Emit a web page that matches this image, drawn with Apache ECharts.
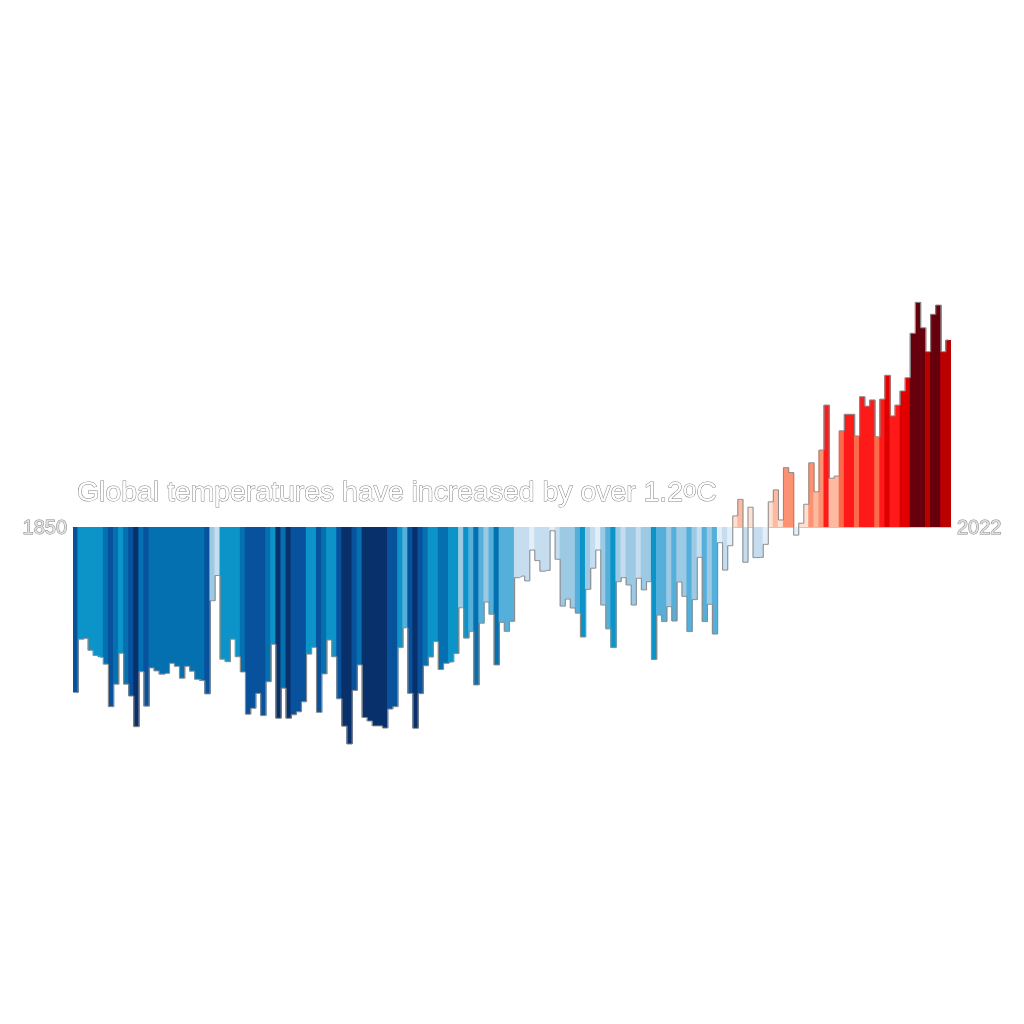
<!DOCTYPE html>
<html>
<head>
<meta charset="utf-8">
<style>
html,body{margin:0;padding:0;background:#ffffff;}
#chart{width:1024px;height:1024px;}
</style>
<script src="https://cdn.jsdelivr.net/npm/echarts@6/dist/echarts.min.js"></script>
</head>
<body>
<div id="chart"></div>
<script>
// Years 1850..2022 (category labels)
const firstYear = 1850;
const lastYear = 2022;
const years = [];
for (let y = firstYear; y <= lastYear; y++) years.push(String(y));

// Annual temperature anomaly (°C)
const anomalies = [
-0.611,-0.414,-0.411,-0.455,-0.474,-0.481,-0.506,-0.663,-0.580,-0.466,
-0.580,-0.624,-0.737,-0.534,-0.661,-0.520,-0.531,-0.543,-0.540,-0.503,
-0.514,-0.558,-0.514,-0.532,-0.562,-0.567,-0.616,-0.272,-0.179,-0.488,
-0.497,-0.414,-0.479,-0.535,-0.691,-0.669,-0.614,-0.696,-0.571,-0.433,
-0.706,-0.595,-0.706,-0.693,-0.682,-0.645,-0.469,-0.444,-0.684,-0.542,
-0.417,-0.479,-0.634,-0.735,-0.801,-0.603,-0.509,-0.703,-0.716,-0.734,
-0.734,-0.742,-0.672,-0.663,-0.445,-0.372,-0.614,-0.743,-0.615,-0.512,
-0.480,-0.423,-0.526,-0.503,-0.498,-0.467,-0.298,-0.410,-0.386,-0.583,
-0.355,-0.277,-0.322,-0.509,-0.352,-0.385,-0.348,-0.187,-0.181,-0.199,
-0.085,-0.124,-0.163,-0.160,-0.014,-0.119,-0.292,-0.266,-0.299,-0.318,
-0.406,-0.230,-0.152,-0.085,-0.288,-0.376,-0.445,-0.202,-0.187,-0.214,
-0.288,-0.189,-0.232,-0.202,-0.489,-0.325,-0.349,-0.294,-0.347,-0.203,
-0.256,-0.386,-0.268,-0.112,-0.349,-0.285,-0.395,-0.058,-0.159,-0.069,
 0.041, 0.102,-0.130, 0.073,-0.113,-0.112,-0.064, 0.093, 0.137, 0.026,
 0.219, 0.201,-0.030, 0.014, 0.084, 0.237, 0.130, 0.284, 0.450, 0.180,
 0.188, 0.355, 0.416, 0.416, 0.336, 0.481, 0.446, 0.469, 0.333, 0.472,
 0.560, 0.410, 0.450, 0.502, 0.551, 0.715, 0.829, 0.735, 0.647, 0.785,
 0.819, 0.647, 0.690
];

// Colour bands (0.1 °C steps)
const bandEdges = [-0.7,-0.6,-0.5,-0.4,-0.3,-0.2,-0.1,0,0.1,0.2,0.3,0.4,0.5,0.6,0.7];
const bandColors = ['#08306b','#08519c','#0570b0','#0c94c9','#54b0db','#9ccae4','#c6dcef','#e2eef8',
                    '#fee0d2','#fcbba1','#fc9272','#fb6a4a','#ff1a1a','#e00000','#bb0000','#67000d'];

const titleText = 'Global temperatures have increased by over 1.2{sup|o}C';

const pieces = bandColors.map((c, i) => {
  const p = { color: c };
  if (i > 0) p.gte = bandEdges[i - 1];
  if (i < bandEdges.length) p.lt = bandEdges[i];
  return p;
});

const chart = echarts.init(document.getElementById('chart'), null, { renderer: 'canvas' });
const hollow = { color: '#ffffff', textBorderColor: '#858585', textBorderWidth: 1 };

chart.setOption({
  backgroundColor: '#ffffff',
  animation: false,
  title: {
    text: titleText,
    left: 77,
    top: 478,
    padding: 0,
    textStyle: Object.assign({
      fontFamily: 'Liberation Sans',
      fontSize: 28.4,
      lineHeight: 30,
      fontWeight: 'normal',
      rich: {
        sup: Object.assign({ fontFamily: 'Liberation Sans', fontSize: 24, lineHeight: 18, verticalAlign: 'top' }, hollow)
      }
    }, hollow)
  },
  grid: { left: 73, right: 73, top: 256, bottom: 226 },
  xAxis: {
    type: 'category',
    data: years,
    boundaryGap: true,
    axisLine: { show: true, onZero: true, lineStyle: { color: '#c8c8c8', width: 1 } },
    axisTick: { show: false },
    axisLabel: { show: false },
    splitLine: { show: false }
  },
  yAxis: {
    type: 'value',
    min: -1,
    max: 1,
    show: false,
    splitLine: { show: false }
  },
  visualMap: {
    type: 'piecewise',
    show: false,
    seriesIndex: 0,
    dimension: 1,
    pieces: pieces
  },
  series: [
    {
      type: 'bar',
      data: anomalies,
      barWidth: '125%',
      itemStyle: { borderWidth: 0, opacity: 1 },
      z: 2
    },
    {
      type: 'line',
      data: anomalies,
      step: 'middle',
      showSymbol: false,
      symbol: 'none',
      silent: true,
      z: 3,
      lineStyle: { color: '#8c8c8c', width: 1 }
    }
  ],
  graphic: [
    {
      type: 'text', x: 67, y: 528,
      style: { text: String(firstYear), fontFamily: 'Liberation Sans', fontSize: 20,
               fill: '#e0e0e0', stroke: '#888888', lineWidth: 1, align: 'right', verticalAlign: 'middle' }
    },
    {
      type: 'text', x: 957, y: 528,
      style: { text: String(lastYear), fontFamily: 'Liberation Sans', fontSize: 20,
               fill: '#e0e0e0', stroke: '#888888', lineWidth: 1, align: 'left', verticalAlign: 'middle' }
    }
  ]
});
</script>
</body>
</html>
